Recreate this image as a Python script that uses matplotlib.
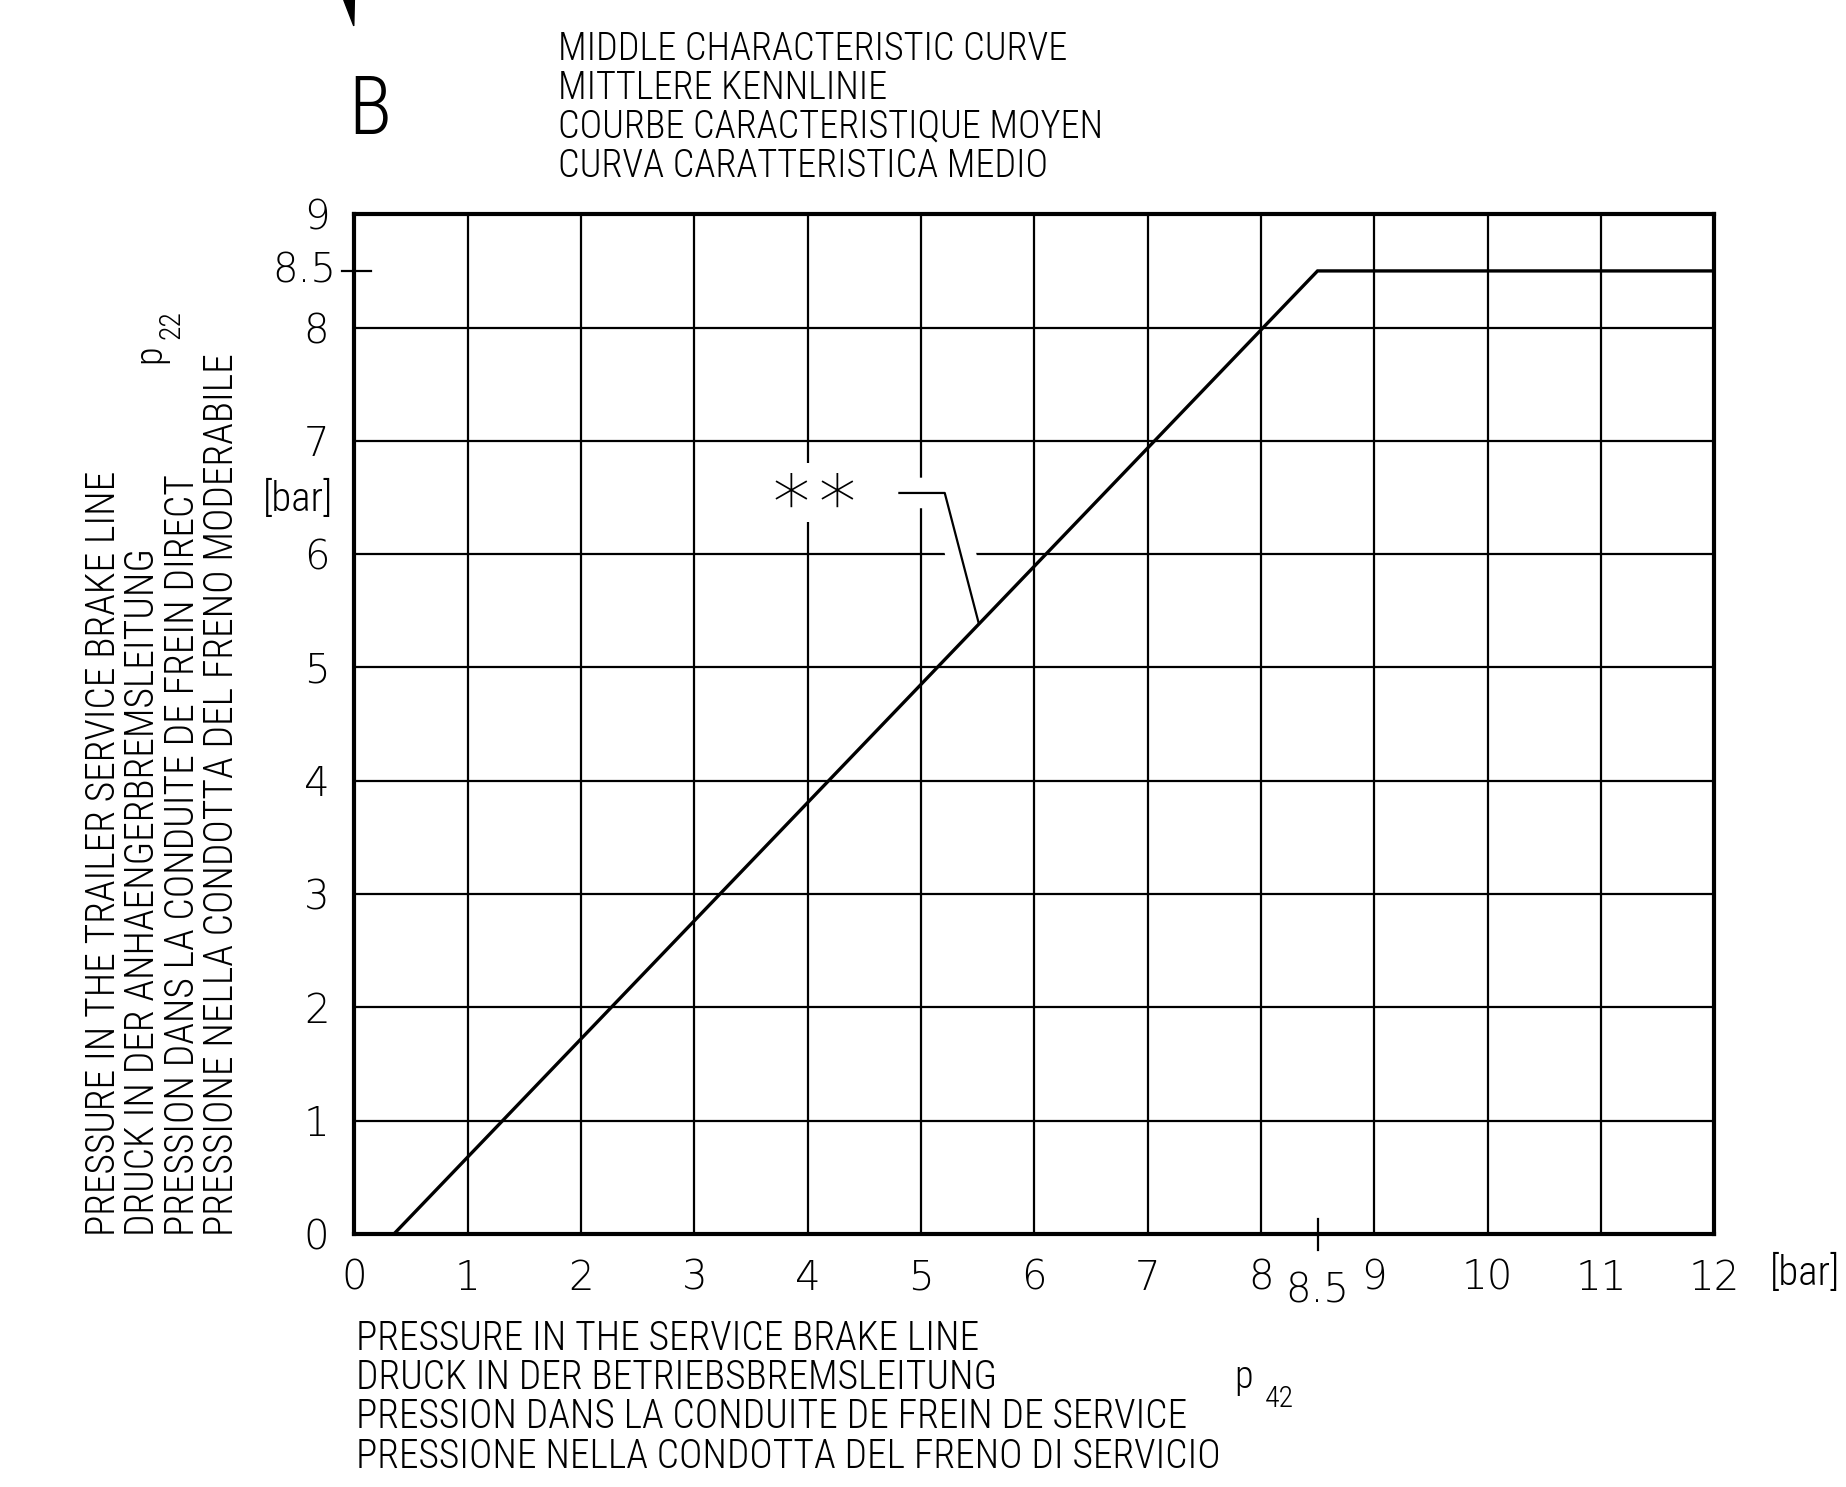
import matplotlib.pyplot as plt
import matplotlib.patheffects as pe
from matplotlib import font_manager as fm
from matplotlib.patches import Polygon

# characteristic curve: p42 (service brake line) -> p22 (trailer service brake line)
p42 = [0.35, 8.5, 12.0]
p22 = [0.0, 8.5, 8.5]

x_ticks = list(range(0, 13))
y_ticks = list(range(0, 10))
mark_value = 8.5

title_lines = ["MIDDLE CHARACTERISTIC CURVE",
               "MITTLERE KENNLINIE",
               "COURBE CARACTERISTIQUE MOYEN",
               "CURVA CARATTERISTICA MEDIO"]
ylabel_lines = ["PRESSURE IN THE TRAILER SERVICE BRAKE LINE",
                "DRUCK IN DER ANHAENGERBREMSLEITUNG",
                "PRESSION DANS LA CONDUITE DE FREIN DIRECT",
                "PRESSIONE NELLA CONDOTTA DEL FRENO MODERABILE"]
xlabel_lines = ["PRESSURE IN THE SERVICE BRAKE LINE",
                "DRUCK IN DER BETRIEBSBREMSLEITUNG",
                "PRESSION DANS LA CONDUITE DE FREIN DE SERVICE",
                "PRESSIONE NELLA CONDOTTA DEL FRENO DI SERVICIO"]

# pick a narrow face if one is installed, otherwise shrink DejaVu
fonts = fm.fontManager.ttflist
names = {f.name for f in fonts}
cad = dict(family="DejaVu Sans")
size = 22.5
for nm in ["Liberation Sans Narrow", "Roboto Condensed", "Open Sans Condensed"]:
    if nm in names:
        cad = dict(family=nm, fontweight="light")
        size = 27.5
        break
else:
    if any(f.name == "DejaVu Sans" and f.stretch == "condensed" for f in fonts):
        cad = dict(family="DejaVu Sans", stretch="condensed")
        size = 25
lsize = size * 1.035
num = dict(family="DejaVu Sans", fontweight="light")
nsize = 29

W, H = 1568.0, 1263.0   # layout measured on the shrunk picture


def fx(px):
    return px / W


def fy(py):
    return 1 - py / H


fig = plt.figure(figsize=(18.46, 14.87), dpi=100)
ax = fig.add_axes([fx(301), fy(1048), fx(1456) - fx(301), fy(182) - fy(1048)])
ax.set_xlim(0, 12)
ax.set_ylim(0, 9)

ax.plot(p42, p22, color="black", lw=2.4, zorder=5, solid_joinstyle="miter")

ax.set_xticks(x_ticks)
ax.set_yticks(y_ticks)
ax.grid(True, color="black", lw=1.6)
ax.tick_params(length=0, pad=18, labelsize=nsize, labelcolor="black")
for lab in ax.get_xticklabels() + ax.get_yticklabels():
    lab.set_family(num["family"])
    lab.set_fontweight("light")
for s in ax.spines.values():
    s.set_linewidth(3)

# 8.5 marks crossing both axes
ax.plot([-0.11, 0.15], [mark_value, mark_value], color="black", lw=1.6, clip_on=False)
ax.plot([mark_value, mark_value], [0.135, -0.145], color="black", lw=1.6, clip_on=False)
ax.text(-0.16, mark_value, "8.5", ha="right", va="center", fontsize=nsize, **num)
ax.text(mark_value, -0.5, "8.5", ha="center", va="center", fontsize=nsize, **num)

# units
ax.text(-0.5, 6.48, "[bar]", ha="center", va="center", fontsize=size + 2, **cad)
ax.text(12.8, -0.35, "[bar]", ha="center", va="center", fontsize=size + 2, **cad)

# ** annotation with leader
ax.text(4.06, 6.54, "\u2217\u2217", ha="center", va="center", fontsize=54, **num,
        bbox=dict(facecolor="white", edgecolor="none", pad=-5), zorder=4)
ax.plot([4.81, 5.21, 5.51], [6.54, 6.54, 5.39], color="black", lw=1.6, zorder=4,
        path_effects=[pe.Stroke(linewidth=22, foreground="white"), pe.Normal()])

# texts around the chart
for i, t in enumerate(title_lines):
    fig.text(fx(474), fy(42 + 33 * i), t, ha="left", va="center", fontsize=size, **cad)
fig.text(fx(314), fy(95), "B", ha="center", va="center", fontsize=58, **cad)

for i, t in enumerate(ylabel_lines):
    fig.text(fx(88 + 33.4 * i), fy(1050), t, rotation=90, ha="center", va="bottom",
             fontsize=lsize, **cad)
fig.text(fx(127), fy(300), "p", rotation=90, ha="center", va="center", fontsize=size, **cad)
fig.text(fx(146), fy(276), "22", rotation=90, ha="center", va="center", fontsize=size - 6, **cad)

for i, t in enumerate(xlabel_lines):
    fig.text(fx(302), fy(1137 + 33.3 * i), t, ha="left", va="center", fontsize=lsize, **cad)
fig.text(fx(1056), fy(1170), "p", ha="center", va="center", fontsize=size, **cad)
fig.text(fx(1087), fy(1188), "42", ha="center", va="center", fontsize=size - 6, **cad)

# cut-off arrow head at the top edge
fig.patches.append(Polygon([[fx(292), 1.0], [fx(301), 1.0], [fx(300.5), fy(22)]],
                           closed=True, transform=fig.transFigure, color="black"))

fig.savefig("out.png", dpi=100, facecolor="white")
